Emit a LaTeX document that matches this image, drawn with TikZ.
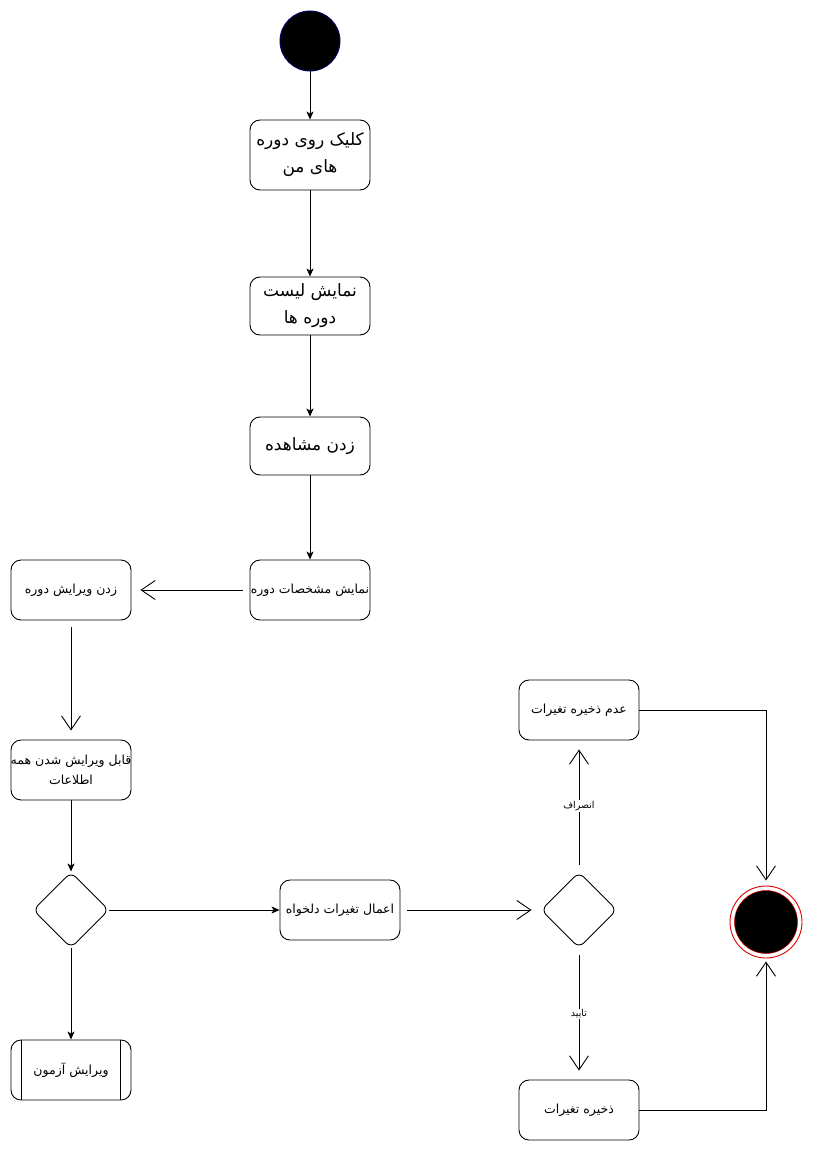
\documentclass[tikz,border=0pt]{standalone}
\usepackage{fontspec}
\usetikzlibrary{arrows.meta,shapes.geometric,calc}
\TeXXeTstate=1
\newfontfamily\arabicfont[Script=Arabic]{DejaVu Sans}
\newcommand{\fa}[1]{{\arabicfont\beginR #1\endR}}
% a line of text that may stick out of its box without widening it
\newcommand{\faover}[1]{\makebox[100pt][c]{\fa{#1}}}
\definecolor{startborder}{HTML}{000066}
\definecolor{endring}{HTML}{E00000}

\begin{document}
\begin{tikzpicture}[x=1pt,y=-1pt,
  act/.style={draw, rounded corners=10pt, minimum width=120pt, minimum height=60pt,
    align=center, inner sep=1pt, line width=0.9pt, fill=white,
    font=\fontsize{12.5}{20}\selectfont},
  bigact/.style={act, font=\fontsize{17}{27}\selectfont},
  decision/.style={draw, diamond, rounded corners=7pt, minimum width=76pt,
    minimum height=76pt, inner sep=0pt, line width=0.9pt},
  fl/.style={line width=0.9pt, -{Stealth[length=8pt,width=7pt,inset=2pt]}},
  op/.style={line width=0.9pt, -{Straight Barb[length=14pt,width=19pt]},
    shorten <=7pt, shorten >=9pt},
  lbl/.style={fill=white, inner sep=1pt, font=\fontsize{9.5}{10}\selectfont}
]
\useasboundingbox (0,0) rectangle (827,1169);

% initial and final states
\node[circle, fill=black, draw=startborder, line width=0.9pt, minimum size=60pt] (start) at (310,41) {};
\node[circle, draw=endring, line width=0.9pt, fill=white, minimum size=72pt] (final) at (766,922) {};
\node[circle, fill=black, draw=endring, line width=0.5pt, minimum size=63pt] at (final) {};

% main course flow
\node[bigact, minimum height=70pt] (n1) at (310,155) {\fa{کلیک روی دوره}\\\fa{های من}};
\node[bigact, minimum height=58pt] (n2) at (310,306) {\fa{نمایش لیست}\\\fa{دوره ها}};
\node[bigact, minimum height=58pt] (n3) at (310,446) {\fa{زدن مشاهده}};
\node[act] (n4) at (310,590) {\faover{نمایش مشخصات دوره}};
\node[act] (n5) at (71,590) {\fa{زدن ویرایش دوره}};
\node[act] (n6) at (71,770) {\faover{قابل ویرایش شدن همه}\\\fa{اطلاعات}};
\node[decision] (d1) at (71,910) {};
\node[act] (n7) at (71,1070) {\fa{ویرایش آزمون}};
\draw[line width=0.9pt] ($(n7.north west)+(11,0)$) -- ($(n7.south west)+(11,0)$)
                        ($(n7.north east)+(-11,0)$) -- ($(n7.south east)+(-11,0)$);
\node[act] (n8) at (340,910) {\fa{اعمال تغیرات دلخواه}};
\node[decision] (d2) at (579,910) {};
\node[act] (n9) at (579,710) {\fa{عدم ذخیره تغیرات}};
\node[act] (n10) at (579,1110) {\fa{ذخیره تغیرات}};

% connectors
\draw[fl] (start) -- (n1);
\draw[fl] (n1) -- (n2);
\draw[fl] (n2) -- (n3);
\draw[fl] (n3) -- (n4);
\draw[op] (n4) -- (n5);
\draw[op] (n5) -- (n6);
\draw[fl] (n6) -- (d1);
\draw[fl] (d1) -- (n7);
\draw[fl] (d1) -- (n8);
\draw[op] (n8) -- (d2);
\draw[op] (d2) -- node[lbl] {\fa{انصراف}} (n9);
\draw[op] (d2) -- node[lbl] {\fa{تایید}} (n10);
\draw[op, shorten <=0pt, shorten >=5pt] (n9.east) -| (final.north);
\draw[op, shorten <=0pt, shorten >=3pt] (n10.east) -| (final.south);
\end{tikzpicture}
\end{document}
